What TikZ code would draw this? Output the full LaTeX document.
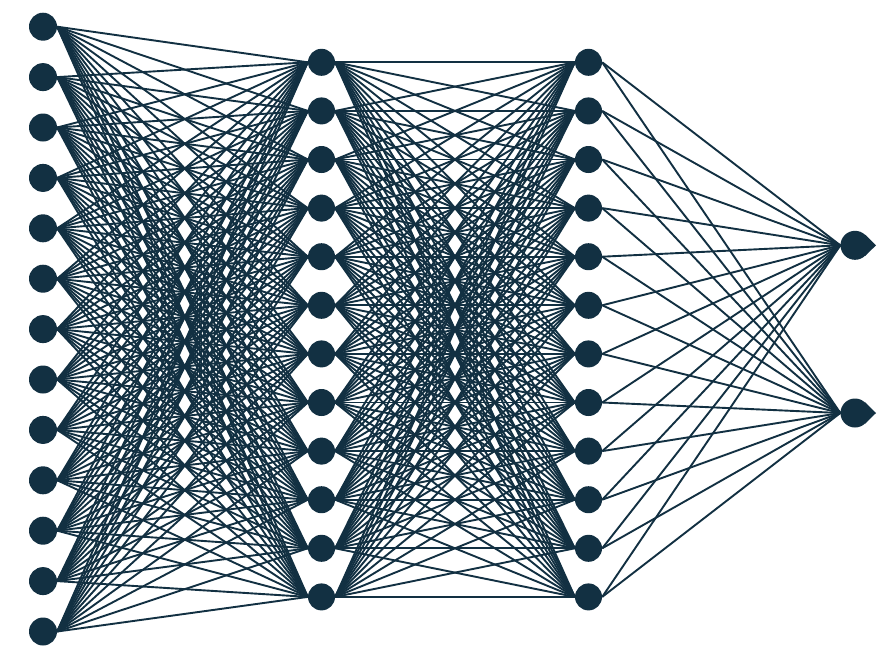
\documentclass[tikz,border=0pt]{standalone}
\definecolor{netblue}{RGB}{18,48,66}
\begin{document}
\begin{tikzpicture}[x=1pt, y=-1pt,
        neuron/.style={circle, fill=netblue, inner sep=0pt, minimum size=28pt},
        synapse/.style={netblue, line width=1.9pt}]
    \useasboundingbox (0,0) rectangle (880,648);
    % layers
    \foreach \i in {1,...,13}
        \node[neuron] (in\i) at (43, {26.7 + (\i-1)*50.4}) {};
    \foreach \j in {1,...,12} {
        \node[neuron, minimum size=27pt] (ha\j) at (321.5, {62.3 + (\j-1)*48.6}) {};
        \node[neuron, minimum size=27pt] (hb\j) at (588.5, {62.3 + (\j-1)*48.6}) {};
    }
    \node[neuron, minimum size=29pt] (out1) at (855, 245.3) {};
    \node[neuron, minimum size=29pt] (out2) at (855, 413) {};
    \foreach \k in {1,2}
        \fill[netblue] (out\k.46) -- ([xshift=21pt]out\k.center) -- (out\k.-46) -- cycle;
    % connections
    \foreach \i in {1,...,13}
        \foreach \j in {1,...,12}
            \draw[synapse] (in\i.east) -- (ha\j.west);
    \foreach \i in {1,...,12}
        \foreach \j in {1,...,12}
            \draw[synapse] (ha\i.east) -- (hb\j.west);
    \foreach \i in {1,...,12}
        \foreach \k in {1,2}
            \draw[synapse] (hb\i.east) -- (out\k.west);
\end{tikzpicture}
\end{document}
